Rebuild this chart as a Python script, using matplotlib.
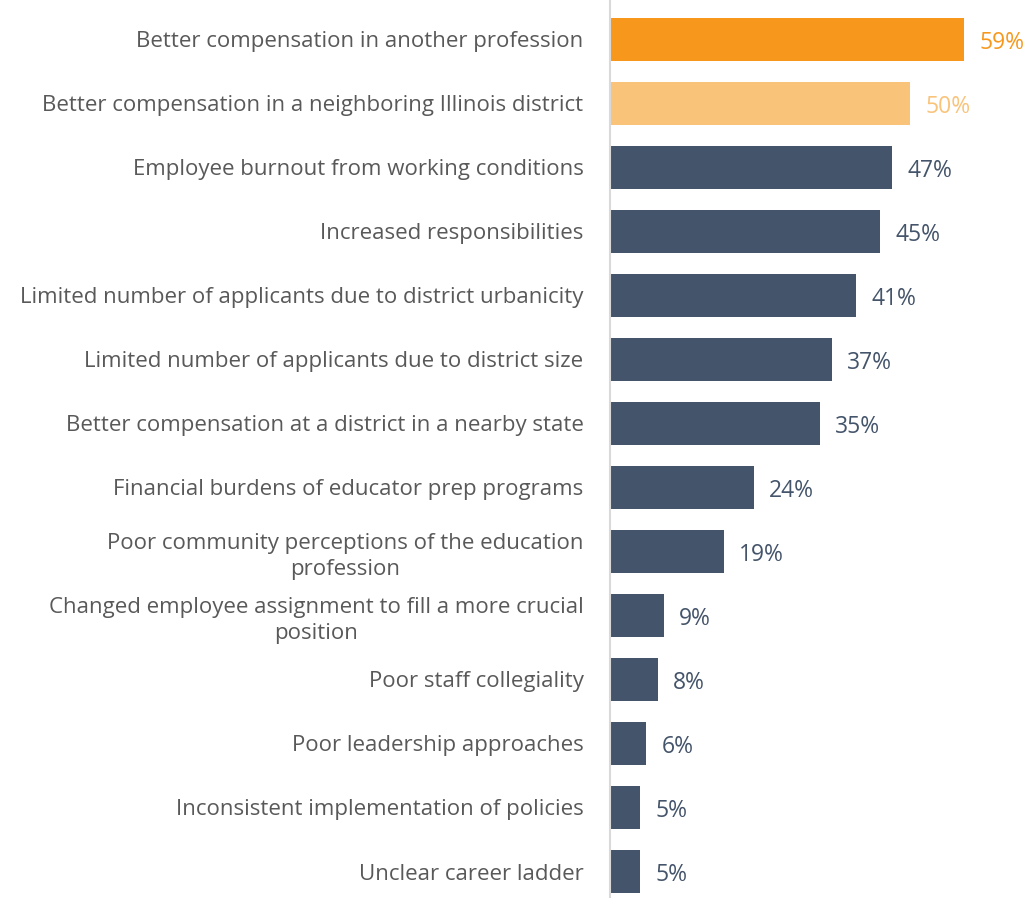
import matplotlib.pyplot as plt

# survey reasons and share of respondents (%)
reasons = ['Better compensation in another profession',
           'Better compensation in a neighboring Illinois district',
           'Employee burnout from working conditions',
           'Increased responsibilities',
           'Limited number of applicants due to district urbanicity',
           'Limited number of applicants due to district size',
           'Better compensation at a district in a nearby state',
           'Financial burdens of educator prep programs',
           'Poor community perceptions of the education\nprofession',
           'Changed employee assignment to fill a more crucial\nposition',
           'Poor staff collegiality',
           'Poor leadership approaches',
           'Inconsistent implementation of policies',
           'Unclear career ladder']
values = [59, 50, 47, 45, 41, 37, 35, 24, 19, 9, 8, 6, 5, 5]
bar_colors = ['#F7981D', '#FAC37A'] + ['#44546A'] * 12
label_colors = ['#F7981D', '#FAC37A'] + ['#44546A'] * 12

plt.rcParams['font.family'] = ['Open Sans', 'DejaVu Sans']

fig = plt.figure(figsize=(10.26, 8.98), dpi=100)
ax = fig.add_axes([610 / 1026, 0, 416 / 1026, 1])

pos = list(range(len(values)))
ax.barh(pos, values, height=0.67, color=bar_colors)

ax.set_xlim(0, 416 / 6.0)
ax.set_ylim((898 - 39.5) / 64, -39.5 / 64)

for i, v in enumerate(values):
    ax.annotate(f'{v}%', (v, i), xytext=(11, -2.5), textcoords='offset points',
                va='center', ha='left', fontsize=16.5, color=label_colors[i])

ax.set_yticks(pos)
ax.set_yticklabels(reasons, fontsize=16, color='#595959', linespacing=1.3)
for lbl in ax.get_yticklabels():
    lbl.set_multialignment('center')
ax.tick_params(axis='y', length=0, pad=19)
ax.set_xticks([])

for s in ['top', 'right', 'bottom']:
    ax.spines[s].set_visible(False)
ax.spines['left'].set_color('#D9D9D9')
ax.spines['left'].set_linewidth(1.5)

fig.savefig('out.png', dpi=100)
